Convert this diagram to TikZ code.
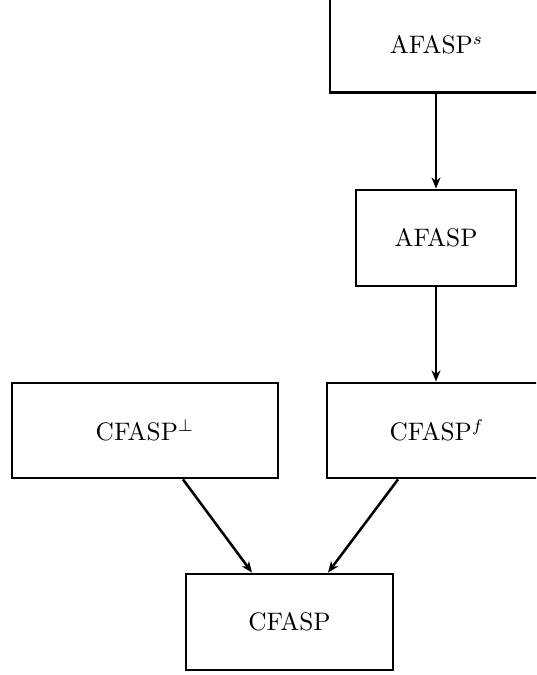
\documentclass[tikz,border=0pt]{standalone}
\usetikzlibrary{arrows.meta,calc}
\begin{document}
\begin{tikzpicture}[x=0.415pt,y=-0.415pt,
  box/.style={draw,line width=1.2pt,inner sep=0pt,minimum height=39.8pt,font=\fontsize{10.5}{12}\selectfont},
  conn/.style={line width=1.05pt,-{Stealth[length=4.6pt,width=3.7pt,inset=1.4pt]}}]
\useasboundingbox (0,0) rectangle (536,675);
\clip (0,0) rectangle (536,675);
\node[box,minimum width=88.4pt] (as) at (436.5,45) {AFASP$^{s}$};
\node[box,minimum width=66.4pt] (a) at (436,238) {AFASP};
\node[box,minimum width=110.4pt,minimum height=39.4pt] (cp) at (145,430.5) {CFASP$^{\perp}$};
\node[box,minimum width=91.3pt,minimum height=39.4pt] (cf) at (437,430.5) {CFASP$^{f}$};
\node[box,minimum width=85.9pt] (c) at (289.5,622) {CFASP};
\draw[conn] (as.south -| a.north) -- (a.north);
\draw[conn] (a.south) -- (a.south |- cf.north);
\draw[conn] ($(cp.south)+(38,0)$) -- ($(c.north)+(-37.5,0)$);
\draw[conn] ($(cf.south)+(-39,0)$) -- ($(c.north)+(38.5,0)$);
\end{tikzpicture}
\end{document}
